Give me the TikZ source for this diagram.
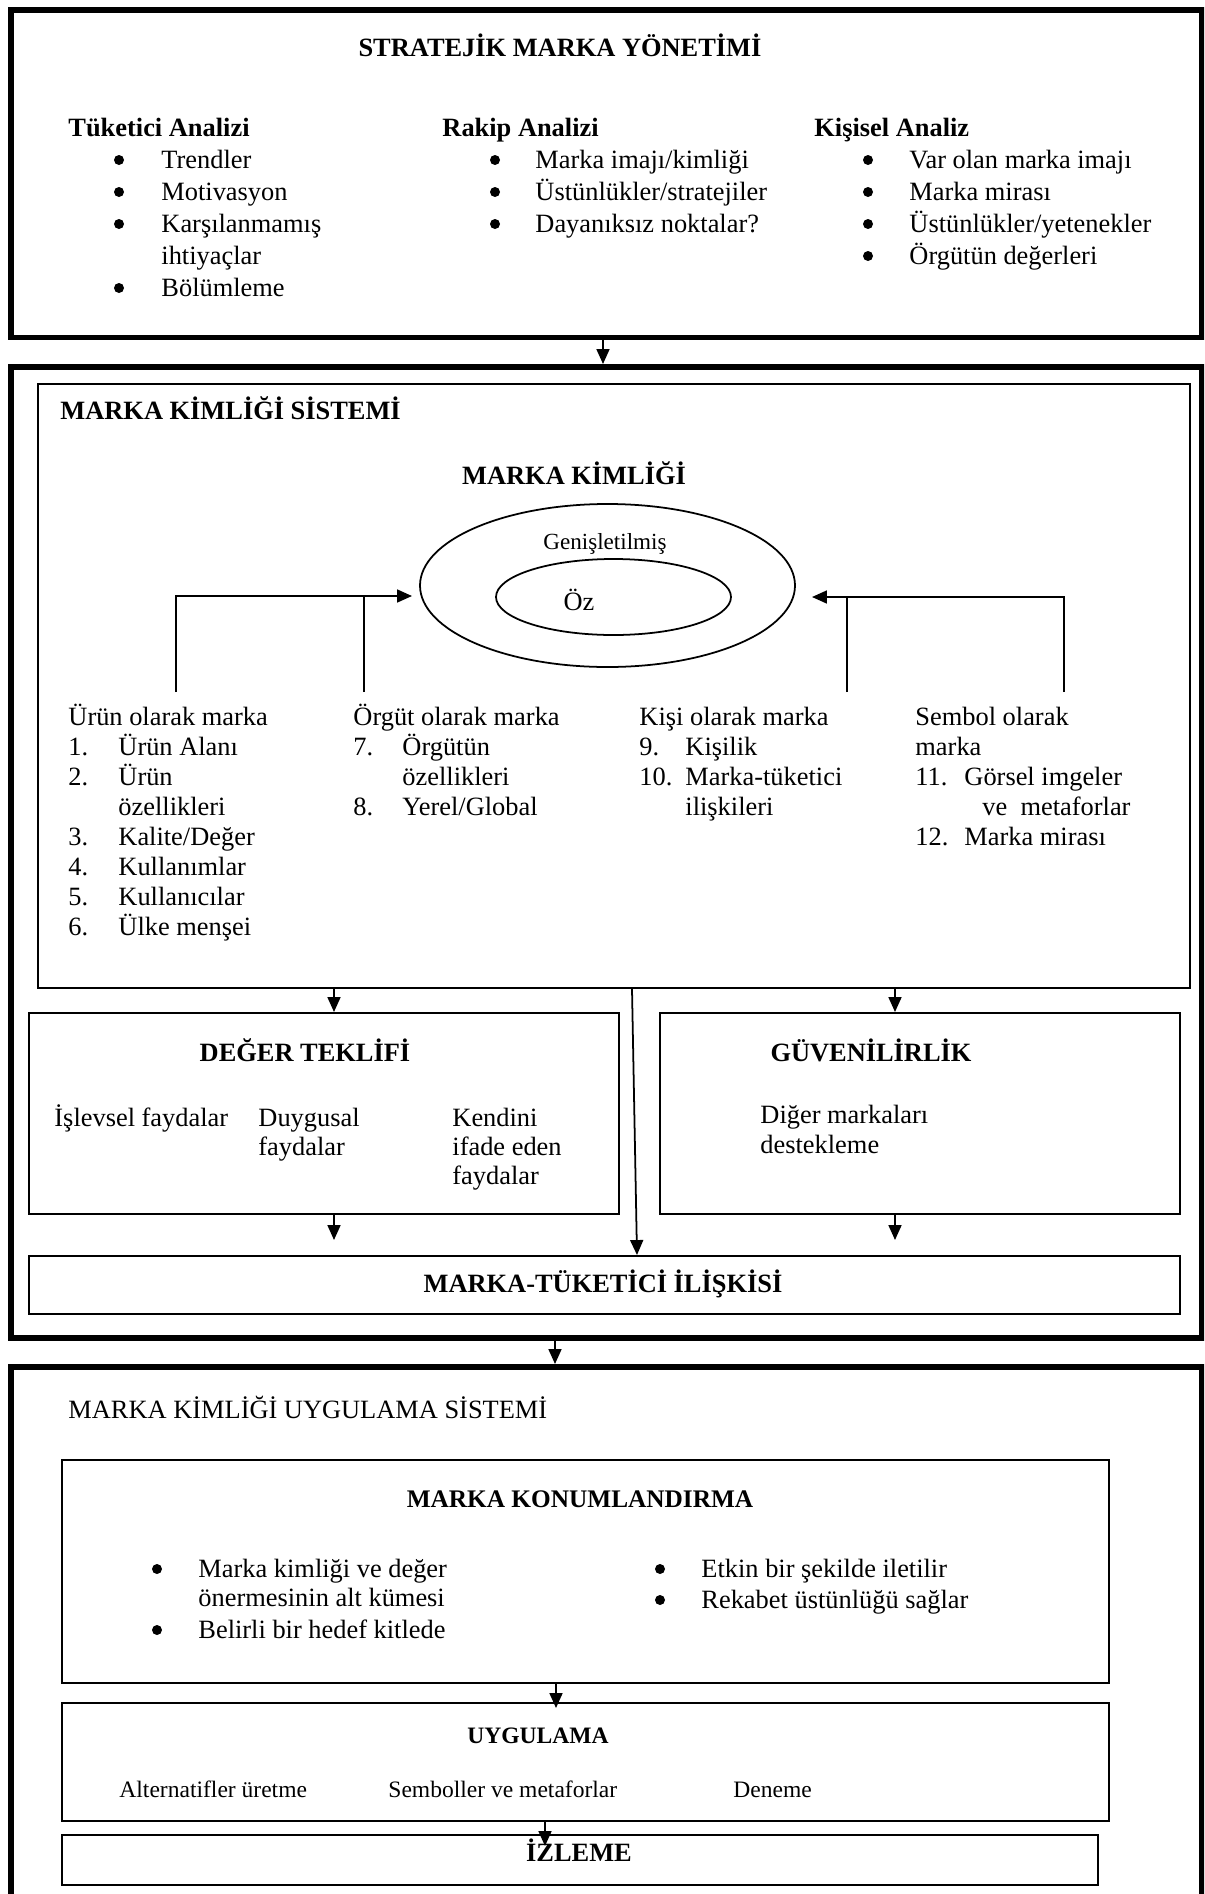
\documentclass[tikz,border=0pt]{standalone}
\usepackage{fontspec}
\setmainfont{Liberation Serif}
\usetikzlibrary{arrows.meta,shapes.geometric}
% one drawing unit = one pixel of the 1204 x 1894 sheet
\def\pxu{0.454545pt}
\begin{document}
\begin{tikzpicture}[x=\pxu, y=-\pxu,
  spans/.style 2 args={minimum width={(#1)*\pxu}, minimum height={(#2)*\pxu}},
  frame/.style={draw, line width=2.7pt, inner sep=0pt, anchor=north west},
  panel/.style={draw, line width=0.8pt, inner sep=0pt, anchor=north west},
  link/.style={line width=0.8pt},
  arr/.style={line width=0.8pt, -{Triangle[length=6.8pt,width=5.9pt]}},
  dot/.style={circle, fill, inner sep=0pt, minimum size={10*\pxu}},
  txt/.style={anchor=base west, inner sep=0pt, font=\fontsize{12}{14}\selectfont},
  ctr/.style={anchor=base, inner sep=0pt, font=\fontsize{12}{14}\selectfont},
  hd/.style={anchor=base, inner sep=0pt, font=\bfseries\fontsize{12}{14}\selectfont},
  hdl/.style={anchor=base west, inner sep=0pt, font=\bfseries\fontsize{12}{14}\selectfont},
  sml/.style={anchor=base west, inner sep=0pt, font=\fontsize{10.7}{13}\selectfont},
]
\useasboundingbox (0,0) rectangle (1204,1894);
\clip (0,0) rectangle (1204,1894);

% ---------- outer frames ----------
\node[frame, spans={1191}{327.5}] (s1) at (8,7) {};
\node[frame, spans={1191}{971}] (s2) at (8,364) {};
\node[frame, spans={1191}{600}] (s3) at (8,1364) {};

% ---------- strategic brand management ----------
\node[hd] (t1) at (560,56) {STRATEJİK MARKA YÖNETİMİ};
\node[hdl] (h1) at (68,136) {Tüketici Analizi};
\node[hdl] (h2) at (442,136) {Rakip Analizi};
\node[hdl] (h3) at (814,136) {Kişisel Analiz};
\foreach \r in {0,1,2,4} \node[dot] (ba\r) at (119,160+32*\r) {};
\foreach \t [count=\i from 0] in {Trendler, Motivasyon, Karşılanmamış, ihtiyaçlar, Bölümleme}
  \node[txt] (ta\i) at (161,168+32*\i) {\t};
\foreach \t [count=\i from 0] in {Marka imajı/kimliği, Üstünlükler/stratejiler, Dayanıksız noktalar?}
  {\node[dot] (bb\i) at (495,160+32*\i) {};
   \node[txt] (tb\i) at (535,168+32*\i) {\t};}
\foreach \t [count=\i from 0] in {Var olan marka imajı, Marka mirası, Üstünlükler/yetenekler, Örgütün değerleri}
  {\node[dot] (bc\i) at (868,160+32*\i) {};
   \node[txt] (tc\i) at (909,168+32*\i) {\t};}

\draw[arr] (603,0 |- s1.south) -- (603,0 |- s2.north);

% ---------- brand identity system ----------
\node[panel, spans={1152}{604}] (mk) at (37,383) {};
\node[hdl] (mks) at (60,419) {MARKA KİMLİĞİ SİSTEMİ};
\node[hd] (mkt) at (574,484) {MARKA KİMLİĞİ};
\node[draw, ellipse, line width=0.8pt, inner sep=0pt, spans={375}{163}] (ext) at (607.5,585.5) {};
\node[draw, ellipse, line width=0.8pt, inner sep=0pt, spans={235}{76}] (core) at (613.5,597) {};
\node[anchor=base, inner sep=0pt, font=\fontsize{10.5}{12}\selectfont] (gen) at (605,549) {Genişletilmiş};
\node[ctr] (oz) at (579,610) {Öz};

\coordinate (pA) at (176,692);
\coordinate (pB) at (364,692);
\coordinate (pC) at (847,692);
\coordinate (pD) at (1064,692);
\coordinate (tipL) at (412,596);
\coordinate (tipR) at (812,597);
\draw[arr] (pA) |- (tipL);
\draw[link] (pB) -- (pB |- tipL);
\draw[arr] (pD) |- (tipR);
\draw[link] (pC) -- (pC |- tipR);

% brand as product
\node[txt] (a0) at (68,725) {Ürün olarak marka};
\foreach \n/\r in {1./1, 2./2, 3./4, 4./5, 5./6, 6./7}
  \node[txt] (an\r) at (68,725+30*\r) {\n};
\foreach \t [count=\r] in {Ürün Alanı, Ürün, özellikleri, Kalite/Değer, Kullanımlar, Kullanıcılar, Ülke menşei}
  \node[txt] (at\r) at (118,725+30*\r) {\t};
% brand as organisation
\node[txt] (b0) at (353,725) {Örgüt olarak marka};
\node[txt] (bn1) at (353,755) {7.};
\node[txt] (bn3) at (353,815) {8.};
\node[txt] (bt1) at (402,755) {Örgütün};
\node[txt] (bt2) at (402,785) {özellikleri};
\node[txt] (bt3) at (402,815) {Yerel/Global};
% brand as person
\node[txt] (c0) at (639,725) {Kişi olarak marka};
\node[txt] (cn1) at (639,755) {9.};
\node[txt] (cn2) at (639,785) {10.};
\node[txt] (ct1) at (685,755) {Kişilik};
\node[txt] (ct2) at (685,785) {Marka-tüketici};
\node[txt] (ct3) at (685,815) {ilişkileri};
% brand as symbol
\node[txt] (d0) at (915,725) {Sembol olarak};
\node[txt] (d1) at (915,755) {marka};
\node[txt] (dn2) at (915,785) {11.};
\node[txt] (dn4) at (915,845) {12.};
\node[txt] (dt2) at (964,785) {Görsel imgeler};
\node[txt] (dt3) at (982,815) {ve\ \ metaforlar};
\node[txt] (dt4) at (964,845) {Marka mirası};

% value proposition and credibility
\node[panel, spans={590}{201}] (deger) at (28,1012) {};
\node[panel, spans={520}{201}] (guv) at (659,1012) {};
\node[panel, spans={1151}{58}] (mt) at (28,1255) {};
\node[hd] (dtk) at (305,1061) {DEĞER TEKLİFİ};
\node[hd] (gvl) at (871,1061) {GÜVENİLİRLİK};
\node[txt] (v1) at (54,1126) {İşlevsel faydalar};
\node[txt] (v2) at (258,1126) {Duygusal};
\node[txt] (v3) at (258,1155) {faydalar};
\node[txt] (v4) at (452,1126) {Kendini};
\node[txt] (v5) at (452,1155) {ifade eden};
\node[txt] (v6) at (452,1184) {faydalar};
\node[txt] (g1) at (760,1123) {Diğer markaları};
\node[txt] (g2) at (760,1153) {destekleme};
\node[hd] (mtt) at (603,1292) {MARKA-TÜKETİCİ İLİŞKİSİ};

\coordinate (eL) at (334,1240);
\coordinate (eR) at (895,1240);
\draw[arr] (334,0 |- mk.south) -- (334,0 |- deger.north);
\draw[arr] (895,0 |- mk.south) -- (895,0 |- guv.north);
\draw[arr] (632,0 |- mk.south) -- (637,0 |- mt.north);
\draw[arr] (334,0 |- deger.south) -- (eL);
\draw[arr] (895,0 |- guv.south) -- (eR);

\draw[arr] (555,0 |- s2.south) -- (555,0 |- s3.north);

% ---------- implementation system ----------
\node[txt] (uys) at (68,1418) {MARKA KİMLİĞİ UYGULAMA SİSTEMİ};
\node[panel, spans={1047}{223}] (kon) at (61,1459) {};
\node[panel, spans={1047}{118}] (uyg) at (61,1702) {};
\node[panel, spans={1036}{50}] (izl) at (61,1834) {};

\node[hd, font=\bfseries\fontsize{11.5}{14}\selectfont] (kt) at (580,1507) {MARKA KONUMLANDIRMA};
\node[dot] (k1b) at (157,1569) {};
\node[dot] (k3b) at (157,1630) {};
\node[txt] (k1) at (198,1577) {Marka kimliği ve değer};
\node[txt] (k2) at (198,1606) {önermesinin alt kümesi};
\node[txt] (k3) at (198,1638) {Belirli bir hedef kitlede};
\node[dot] (k4b) at (660,1569) {};
\node[dot] (k5b) at (660,1600) {};
\node[txt] (k4) at (701,1577) {Etkin bir şekilde iletilir};
\node[txt] (k5) at (701,1608) {Rekabet üstünlüğü sağlar};

\node[hd, font=\bfseries\fontsize{10.7}{13}\selectfont] (ut) at (538,1743) {UYGULAMA};
\node[sml] (u1) at (119,1797) {Alternatifler üretme};
\node[sml] (u2) at (388,1797) {Semboller ve metaforlar};
\node[sml] (u3) at (733,1797) {Deneme};

\node[hd] (it) at (579,1861) {İZLEME};

\coordinate (eU) at (556,1708);
\coordinate (eI) at (545,1846);
\draw[arr] (556,0 |- kon.south) -- (eU);
\draw[arr] (545,0 |- uyg.south) -- (eI);
\end{tikzpicture}
\end{document}
